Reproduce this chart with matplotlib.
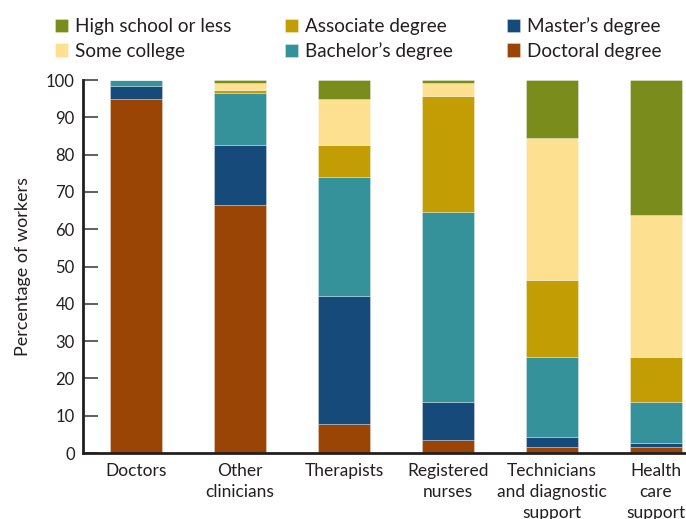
import matplotlib
matplotlib.use("Agg")
import matplotlib.pyplot as plt
import numpy as np

plt.rcParams['font.family'] = ['Lato', 'DejaVu Sans']

categories = ["Doctors", "Other\nclinicians", "Therapists", "Registered\nnurses",
              "Technicians\nand diagnostic\nsupport", "Health\ncare\nsupport"]
series_names = ["Doctoral degree", "Master\u2019s degree", "Bachelor\u2019s degree",
                "Associate degree", "Some college", "High school or less"]
doctoral = [95.0, 66.4, 7.8, 3.4, 1.7, 1.7]
masters = [3.3, 16.3, 34.4, 10.3, 2.5, 0.9]
bachelors = [1.7, 13.9, 31.9, 50.9, 21.6, 11.2]
associate = [0.0, 0.7, 8.6, 31.0, 20.6, 12.0]
some_college = [0.0, 1.8, 12.1, 3.6, 38.1, 38.0]
high_school = [0.0, 0.9, 5.2, 0.8, 15.5, 36.2]
colors = ["#9A4505", "#164A7B", "#35929A", "#C29E04", "#FDE090", "#7A8C1C"]

series = [doctoral, masters, bachelors, associate, some_college, high_school]

fig = plt.figure(figsize=(6.86, 5.19), dpi=100)
ax = fig.add_axes([83/686, 66/519, 1 - 83/686, (453-80)/519])

x = np.arange(len(categories))
bottom = np.zeros(len(categories))
handles = []
for name, vals, c in zip(series_names, series, colors):
    b = ax.bar(x, vals, 0.5, bottom=bottom, color=c, edgecolor=(1, 1, 1, 0.35),
               linewidth=0.6, label=name)
    handles.append(b)
    bottom += np.array(vals)

ax.set_xlim(-0.51, 5.29)
ax.set_ylim(0, 100)
ax.set_yticks(range(0, 101, 10))
ax.set_xticks(x)
ax.set_xticklabels(categories, fontsize=12.5, color="#231f20", linespacing=1.38)
ax.tick_params(axis='x', length=0, pad=7)
ax.tick_params(axis='y', direction='in', length=11, width=1.2, color="#444444",
               labelsize=12, labelcolor="#231f20", pad=6)
for s in ['top', 'right']:
    ax.spines[s].set_visible(False)
for s in ['left', 'bottom']:
    ax.spines[s].set_linewidth(2)
    ax.spines[s].set_color("#231f20")
ax.set_ylabel("Percentage of workers", fontsize=13, color="#231f20", labelpad=11)

order = list(reversed(handles))
leg = fig.legend(order, [h.get_label() for h in order], ncol=3,
                 loc='upper left', bbox_to_anchor=(38/686, 1.0),
                 frameon=False, fontsize=13.6, handlelength=0.69, handleheight=0.69,
                 handletextpad=0.37, columnspacing=2.86, labelspacing=0.41,
                 labelcolor="#231f20")

fig.savefig("out.png", dpi=100)
